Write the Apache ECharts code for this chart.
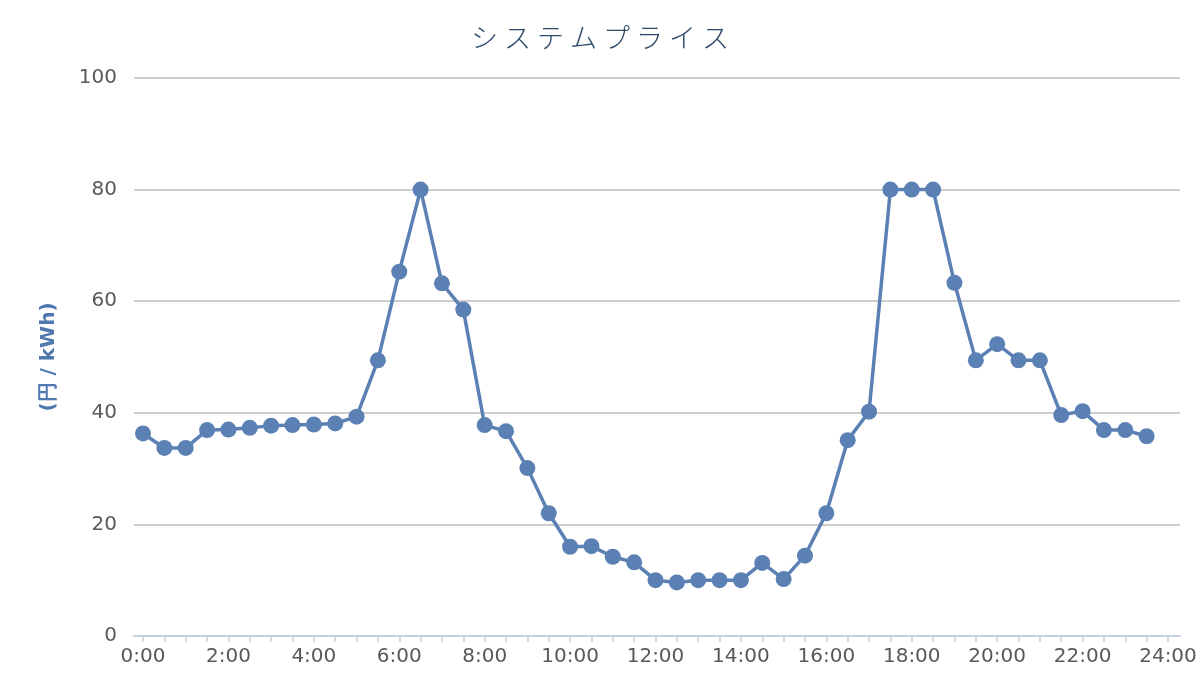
<!DOCTYPE html>
<html>
<head>
<meta charset="utf-8">
<script src="https://cdn.jsdelivr.net/npm/echarts@6/dist/echarts.min.js"></script>
<style>
  html, body { margin: 0; padding: 0; background: #fff; }
  #chart { width: 1200px; height: 700px; }
</style>
</head>
<body>
<div id="chart"></div>
<script>
// 30分ごとのシステムプライス
var times = [
  "0:00", "0:30", "1:00", "1:30", "2:00", "2:30", "3:00", "3:30",
  "4:00", "4:30", "5:00", "5:30", "6:00", "6:30", "7:00", "7:30",
  "8:00", "8:30", "9:00", "9:30", "10:00", "10:30", "11:00", "11:30",
  "12:00", "12:30", "13:00", "13:30", "14:00", "14:30", "15:00", "15:30",
  "16:00", "16:30", "17:00", "17:30", "18:00", "18:30", "19:00", "19:30",
  "20:00", "20:30", "21:00", "21:30", "22:00", "22:30", "23:00", "23:30"
];
var prices = [
  36.3, 33.7, 33.7, 36.9, 37.0, 37.3, 37.7, 37.8,
  37.9, 38.1, 39.3, 49.4, 65.3, 80.0, 63.2, 58.5,
  37.8, 36.7, 30.1, 22.0, 16.0, 16.1, 14.2, 13.2,
  10.0, 9.6, 10.0, 10.0, 10.0, 13.1, 10.2, 14.4,
  22.0, 35.1, 40.2, 80.0, 80.0, 80.0, 63.3, 49.4,
  52.3, 49.4, 49.4, 39.6, 40.3, 36.9, 36.9, 35.8
];
var yTicks = [0, 20, 40, 60, 80, 100];

function toMin(t) {
  var p = t.split(":");
  return (+p[0]) * 60 + (+p[1]);
}

var seriesData = [];
times.forEach(function (t, i) {
  seriesData.push([toMin(t), prices[i]]);
});

var chart = echarts.init(document.getElementById("chart"));
var labelFont = "DejaVu Sans";

var option = {
  animation: false,
  backgroundColor: "#fff",
  title: {
    text: "シ ス テ ム プ ラ イ ス",
    left: "center",
    top: 19,
    textStyle: {
      fontFamily: "Noto Sans CJK JP",
      fontWeight: 300,
      fontSize: 27,
      color: "#2e4a6a"
    }
  },
  grid: [
    { left: 134, right: 20, top: 78, bottom: 64 },
    { left: 143, right: 32, top: 78, bottom: 64 }
  ],
  xAxis: [
    {
      gridIndex: 0,
      type: "value",
      min: 0,
      max: 1,
      axisLine: { show: true, lineStyle: { color: "#c3d0e0", width: 2 } },
      axisTick: { show: false },
      axisLabel: { show: false },
      splitLine: { show: false }
    },
    {
      gridIndex: 1,
      type: "value",
      min: 0,
      max: 1440,
      interval: 120,
      axisLine: { show: false },
      axisTick: { show: true, length: 6, lineStyle: { color: "#c3d0e0", width: 1.5 } },
      minorTick: { show: true, splitNumber: 4, length: 6, lineStyle: { color: "#c3d0e0", width: 1.5 } },
      axisLabel: {
        margin: 11,
        fontFamily: labelFont,
        fontSize: 20,
        color: "#595959",
        formatter: function (v) {
          return (v / 60) + ":00";
        }
      },
      splitLine: { show: false }
    }
  ],
  yAxis: [
    {
      gridIndex: 0,
      type: "value",
      min: yTicks[0],
      max: yTicks[yTicks.length - 1],
      interval: 20,
      name: "(円 / kWh)",
      nameLocation: "middle",
      nameGap: 75,
      nameTextStyle: {
        fontFamily: labelFont,
        fontWeight: "bold",
        fontSize: 20,
        color: "#4f78ae"
      },
      axisLine: { show: false },
      axisTick: { show: false },
      axisLabel: {
        margin: 17,
        fontFamily: labelFont,
        fontSize: 20,
        color: "#595959"
      },
      splitLine: { show: true, lineStyle: { color: "#bcbcbc", width: 1.5 } }
    },
    {
      gridIndex: 1,
      type: "value",
      min: 0,
      max: 100,
      show: false
    }
  ],
  series: [
    {
      name: "システムプライス",
      type: "line",
      xAxisIndex: 1,
      yAxisIndex: 1,
      data: seriesData,
      symbol: "circle",
      symbolSize: 16,
      lineStyle: { color: "#5b80b4", width: 3.5 },
      itemStyle: { color: "#5b80b4" }
    }
  ]
};
chart.setOption(option);
</script>
</body>
</html>
